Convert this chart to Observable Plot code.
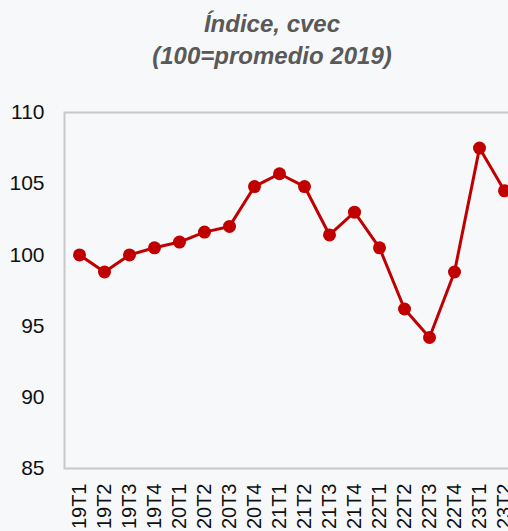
<!DOCTYPE html>
<html>
<head>
<meta charset="utf-8">
<script src="https://cdn.jsdelivr.net/npm/d3@7"></script>
<script src="https://cdn.jsdelivr.net/npm/@observablehq/plot@0.6"></script>
<style>
  html, body { margin: 0; padding: 0; background: #f7f8fa; overflow: hidden; }
  #wrap { width: 544px; position: relative; }
  .title { font-family: "Liberation Sans", Arial, sans-serif; font-weight: bold; font-style: italic;
           color: #595959; font-size: 24px; text-align: center; line-height: 32px; }
  #t { padding-top: 8px; height: 72px; }
</style>
</head>
<body>
<div id="wrap">
  <div id="t" class="title"><div>Índice, cvec</div><div>(100=promedio 2019)</div></div>
  <div id="chart"></div>
</div>
<script>
const quarters = ["19T1","19T2","19T3","19T4","20T1","20T2","20T3","20T4","21T1","21T2","21T3","21T4","22T1","22T2","22T3","22T4","23T1","23T2"];
const values = [100.0, 98.8, 100.0, 100.5, 100.9, 101.6, 102.0, 104.8, 105.7, 104.8, 101.4, 103.0, 100.5, 96.2, 94.2, 98.8, 107.5, 104.5];
const yTicks = [85, 90, 95, 100, 105, 110];

const data = quarters.map((q, i) => ({q, v: values[i]}));

const plot = Plot.plot({
  width: 544,
  height: 458,
  marginTop: 32,
  marginBottom: 70,
  marginLeft: 64,
  marginRight: 26,
  style: {background: "transparent", fontFamily: "'Liberation Sans', Arial, sans-serif", color: "#111", overflow: "visible"},
  x: {type: "point", domain: quarters, padding: 0.5, label: null},
  y: {domain: [85, 110], ticks: yTicks, label: null},
  marks: [
    Plot.frame({stroke: "#c8c8c8", strokeWidth: 2}),
    Plot.axisY({ticks: yTicks, tickSize: 0, tickPadding: 20, fontSize: 21, label: null}),
    Plot.axisX({tickSize: 0, tickPadding: 15, tickRotate: -90, fontSize: 20, label: null}),
    Plot.line(data, {x: "q", y: "v", stroke: "#c00000", strokeWidth: 3}),
    Plot.dot(data, {x: "q", y: "v", fill: "#c00000", r: 6.5})
  ]
});
document.getElementById("chart").appendChild(plot);
</script>
</body>
</html>
